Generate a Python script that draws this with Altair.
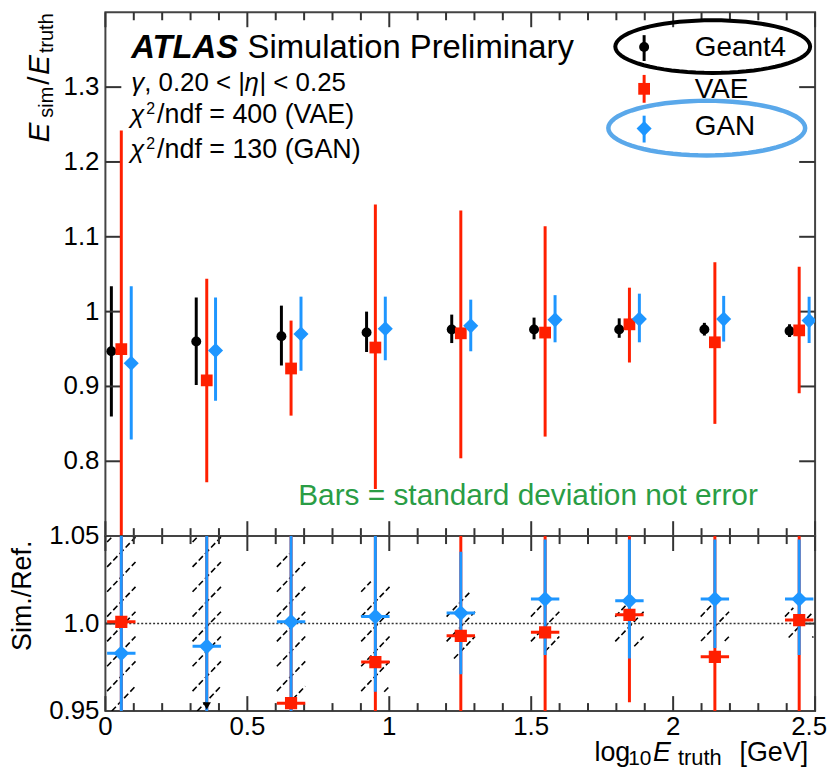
import altair as alt
import pandas as pd
import numpy as np

FONT = "Liberation Sans"
RED = "#ff1f00"
BLUE = "#1e96ff"
W, H1, H2 = 714, 527, 176

# ---------------- data ----------------
x_geant = [0.021, 0.320, 0.620, 0.920, 1.220, 1.510, 1.810, 2.110, 2.410]
x_vae = [0.056, 0.357, 0.654, 0.951, 1.252, 1.549, 1.846, 2.147, 2.444]
x_gan = [0.091, 0.388, 0.689, 0.986, 1.287, 1.584, 1.881, 2.178, 2.479]

g4_mean = [0.947, 0.960, 0.967, 0.972, 0.976, 0.976, 0.976, 0.976, 0.974]
g4_lo = [0.860, 0.902, 0.928, 0.946, 0.958, 0.963, 0.965, 0.968, 0.966]
g4_hi = [1.034, 1.019, 1.008, 1.000, 0.996, 0.992, 0.991, 0.985, 0.983]

vae_mean = [0.950, 0.908, 0.924, 0.952, 0.971, 0.972, 0.983, 0.959, 0.975]
vae_lo = [0.658, 0.772, 0.861, 0.763, 0.804, 0.833, 0.932, 0.850, 0.891]
vae_hi = [1.242, 1.044, 0.988, 1.143, 1.135, 1.114, 1.032, 1.066, 1.060]

gan_mean = [0.931, 0.948, 0.970, 0.977, 0.981, 0.989, 0.990, 0.990, 0.988]
gan_lo = [0.829, 0.881, 0.921, 0.935, 0.947, 0.959, 0.959, 0.960, 0.958]
gan_hi = [1.034, 1.019, 1.020, 1.020, 1.016, 1.022, 1.024, 1.021, 1.020]

# ratio panel
vae_ratio = [1.001, 0.946, 0.9545, 0.978, 0.993, 0.995, 1.005, 0.981, 1.002]
vae_ratio_lo = [0.70, 0.80, 0.93, 0.78, 0.83, 0.85, 0.955, 0.87, 0.915]
vae_ratio_hi = [1.30, 1.09, 1.07, 1.18, 1.16, 1.14, 1.055, 1.09, 1.085]
gan_ratio = [0.983, 0.987, 1.001, 1.004, 1.006, 1.014, 1.013, 1.014, 1.014]
gan_ratio_lo = [0.88, 0.92, 0.948, 0.961, 0.971, 0.982, 0.980, 0.986, 0.982]
gan_ratio_hi = [1.09, 1.06, 1.055, 1.060, 1.041, 1.048, 1.048, 1.048, 1.048]
band_lo = [0.950, 0.950, 0.953, 0.961, 0.980, 0.984, 0.987, 0.990, 0.992]
band_hi = [1.050, 1.050, 1.040, 1.024, 1.018, 1.014, 1.014, 1.013, 1.009]
arrow_x = [0.357]
arrow_y = [0.953]

bin_half = 0.05
y1_ticks = [0.8, 0.9, 1.0, 1.1, 1.2, 1.3]
y1_labels = ["0.8", "0.9", "1", "1.1", "1.2", "1.3"]
y2_ticks = [0.95, 1.0, 1.05]
y2_labels = ["0.95", "1.0", "1.05"]
x_major = [0.0, 0.5, 1.0, 1.5, 2.0, 2.5]
x_labels = ["0", "0.5", "1", "1.5", "2", "2.5"]
x_minor = [0.1, 0.2, 0.3, 0.4, 0.6, 0.7, 0.8, 0.9, 1.1, 1.2, 1.3, 1.4,
           1.6, 1.7, 1.8, 1.9, 2.1, 2.2, 2.3, 2.4]

# ---------------- scales ----------------
xs = alt.Scale(domain=[0, 2.5], nice=False, zero=False)
ys1 = alt.Scale(domain=[0.7, 1.4], nice=False, zero=False)
ys2 = alt.Scale(domain=[0.95, 1.05], nice=False, zero=False)

g4 = pd.DataFrame({"x": x_geant, "y": g4_mean, "lo": g4_lo, "hi": g4_hi,
                   "xl": [v - 0.015 for v in x_geant], "xr": [v + 0.015 for v in x_geant]})
vae = pd.DataFrame({"x": x_vae, "y": vae_mean, "lo": vae_lo, "hi": vae_hi})
gan = pd.DataFrame({"x": x_gan, "y": gan_mean, "lo": gan_lo, "hi": gan_hi})

one = pd.DataFrame({"a": [0]})


def X(f="x"):
    return alt.X(f"{f}:Q", scale=xs, axis=None)


def Y(f, sc):
    return alt.Y(f"{f}:Q", scale=sc, axis=None)


def txt(text, x, y, size, **kw):
    params = dict(text=text, font=FONT, fontSize=size, align="left",
                  baseline="alphabetic", color="black")
    params.update(kw)
    return alt.Chart(one).mark_text(**params).encode(x=alt.value(x), y=alt.value(y))


TC = "#333333"


def yticks(df, scale, x0, x1):
    return alt.Chart(df).mark_rule(color=TC, strokeWidth=2).encode(
        y=Y("v", scale), x=alt.value(x0), x2=alt.value(x1))


def xticks(df, y0, y1):
    return alt.Chart(df).mark_rule(color=TC, strokeWidth=2).encode(
        x=X("v"), y=alt.value(y0), y2=alt.value(y1))


def ylabels(vals, labs, scale):
    df = pd.DataFrame({"v": vals, "t": labs})
    return alt.Chart(df).mark_text(font=FONT, fontSize=26, align="right", baseline="middle",
                                   color="black").encode(
        y=Y("v", scale), x=alt.value(-6), text="t:N")


# ---------------- upper panel ----------------
g4_bar = alt.Chart(g4).mark_rule(color="black", strokeWidth=3, clip=True).encode(
    x=X(), y=Y("lo", ys1), y2="hi:Q")
g4_hbar = alt.Chart(g4).mark_rule(color="black", strokeWidth=3, clip=True).encode(
    x=X("xl"), x2="xr:Q", y=Y("y", ys1))
g4_pt = alt.Chart(g4).mark_point(shape="circle", filled=True, size=100, color="black",
                                 opacity=1, clip=True).encode(x=X(), y=Y("y", ys1))

vae_bar = alt.Chart(vae).mark_rule(color=RED, strokeWidth=3, clip=True).encode(
    x=X(), y=Y("lo", ys1), y2="hi:Q")
vae_pt = alt.Chart(vae).mark_point(shape="square", filled=True, size=140, color=RED,
                                   opacity=1, clip=True).encode(x=X(), y=Y("y", ys1))

gan_bar = alt.Chart(gan).mark_rule(color=BLUE, strokeWidth=3, clip=True).encode(
    x=X(), y=Y("lo", ys1), y2="hi:Q")
gan_pt = alt.Chart(gan).mark_point(shape="diamond", filled=True, size=230, color=BLUE,
                                   opacity=1, clip=True).encode(x=X(), y=Y("y", ys1))

yt1 = pd.DataFrame({"v": y1_ticks})
xmaj = pd.DataFrame({"v": x_major})
xmin = pd.DataFrame({"v": x_minor})

ticks1 = [yticks(yt1, ys1, 0, 16), yticks(yt1, ys1, W - 16, W),
          xticks(xmaj, 0, 15), xticks(xmin, 0, 8),
          xticks(xmaj, H1 - 15, H1), xticks(xmin, H1 - 8, H1),
          ylabels(y1_ticks, y1_labels, ys1)]


def ellipse_path(ry, n=72):
    pts = []
    for k in range(n):
        a = 2 * np.pi * k / n
        pts.append(f"{np.cos(a):.4f} {ry * np.sin(a):.4f}")
    return "M " + " L ".join(pts) + " Z"


leg = []
leg.append(alt.Chart(one).mark_point(shape=ellipse_path(53 / 196), size=196 ** 2, filled=False,
                                     color="black", strokeWidth=4, opacity=1).encode(
    x=alt.value(611), y=alt.value(34.5)))
leg.append(alt.Chart(one).mark_point(shape=ellipse_path(55 / 198), size=198 ** 2, filled=False,
                                     color="#5aa8ea", strokeWidth=4.5, opacity=1).encode(
    x=alt.value(605), y=alt.value(116.5)))
for col, shp, sz, yc, ya, yb in [("black", "circle", 100, 35, 23, 49),
                                 (RED, "square", 140, 77, 63, 91),
                                 (BLUE, "diamond", 230, 117, 104, 131)]:
    leg.append(alt.Chart(one).mark_rule(color=col, strokeWidth=3).encode(
        x=alt.value(542), y=alt.value(ya), y2=alt.value(yb)))
    leg.append(alt.Chart(one).mark_point(shape=shp, filled=True, size=sz, color=col,
                                         opacity=1).encode(x=alt.value(542), y=alt.value(yc)))
leg += [txt("Geant4", 593, 44, 28), txt("VAE", 593, 86, 28), txt("GAN", 593, 123, 28)]

ann = [
    txt("ATLAS", 26, 46, 33, fontWeight="bold", fontStyle="italic"),
    txt("Simulation Preliminary", 143, 46, 33),
    # gamma line
    txt("γ", 26, 79, 26, fontStyle="italic"),
    txt(", 0.20 < |", 39, 79, 26),
    txt("η", 140, 79, 26, fontStyle="italic"),
    txt("| < 0.25", 155, 79, 26),
    # chi2 lines
    txt("χ", 25, 111, 26, fontStyle="italic"),
    txt("2", 41, 102, 16),
    txt("/ndf = 400 (VAE)", 52, 111, 27),
    txt("χ", 25, 147, 26, fontStyle="italic"),
    txt("2", 41, 138, 16),
    txt("/ndf = 130 (GAN)", 52, 147, 27),
    txt("Bars = standard deviation not error", 194, 496, 30, color="#2a9d45"),
]

ytitle1 = [
    txt("E", -57, 131, 30, angle=270, fontStyle="italic"),
    txt("sim", -53, 106, 20, angle=270),
    txt("/", -57, 73, 30, angle=270),
    txt("E", -57, 63, 30, angle=270, fontStyle="italic"),
    txt("truth", -53, 41, 20, angle=270),
]

upper = alt.layer(g4_bar, *ticks1, g4_hbar, g4_pt, vae_bar, vae_pt, gan_bar, gan_pt,
                  *ann, *leg, *ytitle1).properties(width=W, height=H1)

# ---------------- lower panel ----------------
hatch = []
step, dyh = 0.0142, 0.017
for c, lo, hi in zip(x_vae, band_lo, band_hi):
    x0, x1 = c - bin_half, c + bin_half
    y = 0.95 - dyh
    while y < hi:
        t0 = max(0.0, (lo - y) / dyh)
        t1 = min(1.0, (hi - y) / dyh)
        if t1 > t0:
            hatch.append({"x": x0 + t0 * (x1 - x0), "x2": x0 + t1 * (x1 - x0),
                          "y": y + t0 * dyh, "y2": y + t1 * dyh})
        y += step
hatch_df = pd.DataFrame(hatch)

vr = pd.DataFrame({"x": x_vae, "y": vae_ratio, "lo": vae_ratio_lo, "hi": vae_ratio_hi,
                   "xl": [v - bin_half for v in x_vae], "xr": [v + bin_half for v in x_vae]})
gr = pd.DataFrame({"x": x_vae, "y": gan_ratio, "lo": gan_ratio_lo, "hi": gan_ratio_hi,
                   "xl": [v - bin_half for v in x_vae], "xr": [v + bin_half for v in x_vae]})
arr = pd.DataFrame({"x": arrow_x, "y": arrow_y})

hatch_l = alt.Chart(hatch_df).mark_rule(color="black", strokeWidth=1.6, strokeDash=[6, 3],
                                        clip=True).encode(
    x=X(), x2="x2:Q", y=Y("y", ys2), y2="y2:Q")
ref_line = alt.Chart(pd.DataFrame({"y": [1.0]})).mark_rule(
    color="#333333", strokeWidth=1.5, strokeDash=[2, 2]).encode(y=Y("y", ys2))


def rbars(df, col):
    v = alt.Chart(df).mark_rule(color=col, strokeWidth=3, clip=True).encode(
        x=X(), y=Y("lo", ys2), y2="hi:Q")
    h = alt.Chart(df).mark_rule(color=col, strokeWidth=3, clip=True).encode(
        x=X("xl"), x2="xr:Q", y=Y("y", ys2))
    return [v, h]


vr_pt = alt.Chart(vr).mark_point(shape="square", filled=True, size=150, color=RED,
                                 opacity=1, clip=True).encode(x=X(), y=Y("y", ys2))
gr_pt = alt.Chart(gr).mark_point(shape="diamond", filled=True, size=250, color=BLUE,
                                 opacity=1, clip=True).encode(x=X(), y=Y("y", ys2))
arr_pt = alt.Chart(arr).mark_point(shape="triangle-down", filled=True, size=70, color="black",
                                   opacity=1, clip=True).encode(x=X(), y=Y("y", ys2))

yt2 = pd.DataFrame({"v": [1.0]})
xlab_df = pd.DataFrame({"v": x_major[:-1], "t": x_labels[:-1]})
xlab_last = pd.DataFrame({"v": x_major[-1:], "t": x_labels[-1:]})
ticks2 = [yticks(yt2, ys2, 0, 10), yticks(yt2, ys2, W - 10, W),
          xticks(xmaj, 0, 15), xticks(xmin, 0, 8),
          xticks(xmaj, H2 - 15, H2), xticks(xmin, H2 - 8, H2),
          ylabels(y2_ticks, y2_labels, ys2),
          alt.Chart(xlab_df).mark_text(font=FONT, fontSize=26, align="center", baseline="top",
                                       color="black").encode(
              x=X("v"), y=alt.value(H2 + 3), text="t:N"),
          alt.Chart(xlab_last).mark_text(font=FONT, fontSize=26, align="center", baseline="top",
                                         color="black", dx=-6).encode(
              x=X("v"), y=alt.value(H2 + 3), text="t:N")]

ytitle2 = [txt("Sim./Ref.", -75, 60, 27, angle=270, align="center")]
xtitle = [
    txt("log", 492, 226, 27),
    txt("10", 526, 230, 21),
    txt("E", 551, 226, 27, fontStyle="italic"),
    txt("truth", 576, 230, 22),
    txt("[GeV]", 638, 226, 27),
]

lower = alt.layer(hatch_l, ref_line, *ticks2, *rbars(vr, RED), *rbars(gr, BLUE),
                  vr_pt, gr_pt, arr_pt, *ytitle2, *xtitle).properties(width=W, height=H2)

chart = alt.vconcat(upper, lower, spacing=0, bounds="flush").properties(
    padding={"left": 0, "top": 0, "right": 0, "bottom": 0},
    background="white",
).configure_view(stroke="#444444", strokeWidth=2)

chart.save("out.html", embed_options={"renderer": "svg", "actions": False})
